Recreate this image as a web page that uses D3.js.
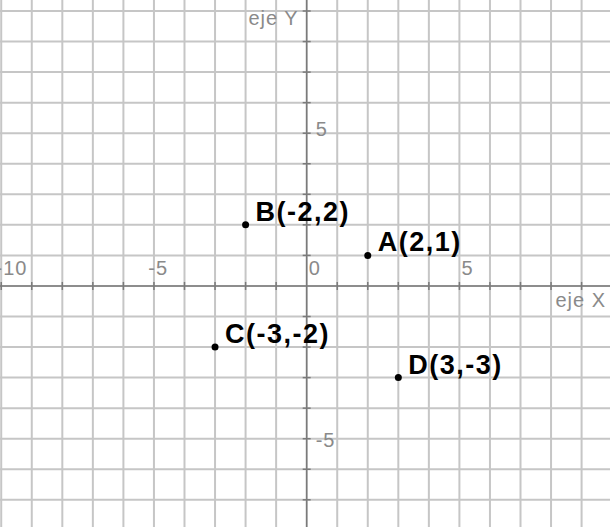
<!DOCTYPE html>
<html>
<head>
<meta charset="utf-8">
<script src="https://cdn.jsdelivr.net/npm/d3@7"></script>
<style>
  html, body { margin: 0; padding: 0; background: #fff; }
  svg { display: block; }
  text { font-family: "Liberation Sans", Arial, Helvetica, sans-serif; }
</style>
</head>
<body>
<svg id="chart" width="610" height="527"></svg>
<script>
// ---- data ----
const pointNames = ["A", "B", "C", "D"];
const pointX = [2, -2, -3, 3];
const pointY = [1, 2, -2, -3];
const xTickLabels = [-10, -5, 0, 5];
const yTickLabels = [5, -5];
const xDomain = [-10.04, 9.93];
const yDomain = [-7.89, 9.36];
const xAxisTitle = "eje X";
const yAxisTitle = "eje Y";

const W = 610, H = 527;
const svg = d3.select("#chart");
const x = d3.scaleLinear().domain(xDomain).range([0, W]);
const y = d3.scaleLinear().domain(yDomain).range([H, 0]);

const gridColor = "#c6c6c6";
const axisColor = "#7a7a7a";
const labelColor = "#8a8a8a";

// grid
const xs = d3.range(Math.ceil(xDomain[0]), Math.floor(xDomain[1]) + 1);
const ys = d3.range(Math.ceil(yDomain[0]), Math.floor(yDomain[1]) + 1);
svg.append("g").selectAll("line").data(xs).join("line")
  .attr("x1", d => x(d)).attr("x2", d => x(d))
  .attr("y1", 0).attr("y2", H)
  .attr("stroke", gridColor).attr("stroke-width", 2);
svg.append("g").selectAll("line").data(ys).join("line")
  .attr("y1", d => y(d)).attr("y2", d => y(d))
  .attr("x1", 0).attr("x2", W)
  .attr("stroke", gridColor).attr("stroke-width", 2);

// axes
const x0 = x(0), y0 = y(0);
svg.append("line").attr("x1", 0).attr("x2", W).attr("y1", y0).attr("y2", y0)
  .attr("stroke", axisColor).attr("stroke-width", 1.5);
svg.append("line").attr("y1", 0).attr("y2", H).attr("x1", x0).attr("x2", x0)
  .attr("stroke", axisColor).attr("stroke-width", 1.5);
// tick marks
svg.append("g").selectAll("line").data(xs.filter(d => d !== 0)).join("line")
  .attr("x1", d => x(d)).attr("x2", d => x(d))
  .attr("y1", y0 - 4).attr("y2", y0 + 4)
  .attr("stroke", axisColor).attr("stroke-width", 1.5);
svg.append("g").selectAll("line").data(ys.filter(d => d !== 0)).join("line")
  .attr("y1", d => y(d)).attr("y2", d => y(d))
  .attr("x1", x0 - 4).attr("x2", x0 + 4)
  .attr("stroke", axisColor).attr("stroke-width", 1.5);

// tick labels
const minusW = 7.7;
svg.append("g").selectAll("text").data(xTickLabels).join("text")
  .attr("x", d => x(d) + 2 - (d < 0 ? minusW : 0))
  .attr("y", y0 - 11)
  .attr("font-size", 20).attr("letter-spacing", 1)
  .attr("fill", labelColor)
  .text(d => String(d));
svg.append("g").selectAll("text").data(yTickLabels).join("text")
  .attr("x", x0 + 9)
  .attr("y", d => y(d) + (d > 0 ? 3 : 8))
  .attr("font-size", 20).attr("letter-spacing", 1)
  .attr("fill", labelColor)
  .text(d => String(d));

// axis titles
svg.append("text").attr("x", W - 4).attr("y", y0 + 21)
  .attr("text-anchor", "end").attr("font-size", 20).attr("letter-spacing", 1)
  .attr("fill", labelColor).text(xAxisTitle);
svg.append("text").attr("x", x0 - 8).attr("y", 25)
  .attr("text-anchor", "end").attr("font-size", 20).attr("letter-spacing", 1)
  .attr("fill", labelColor).text(yAxisTitle);

// points
const pts = pointNames.map((n, i) => ({ name: n, px: pointX[i], py: pointY[i] }));
svg.append("g").selectAll("circle").data(pts).join("circle")
  .attr("cx", d => x(d.px)).attr("cy", d => y(d.py)).attr("r", 3.5)
  .attr("fill", "#000");
svg.append("g").selectAll("text").data(pts).join("text")
  .attr("x", d => x(d.px) + 10).attr("y", d => y(d.py) - 4)
  .attr("font-size", 27).attr("font-weight", "bold").attr("letter-spacing", 1.5)
  .attr("fill", "#000")
  .text(d => `${d.name}(${d.px},${d.py})`);
</script>
</body>
</html>
